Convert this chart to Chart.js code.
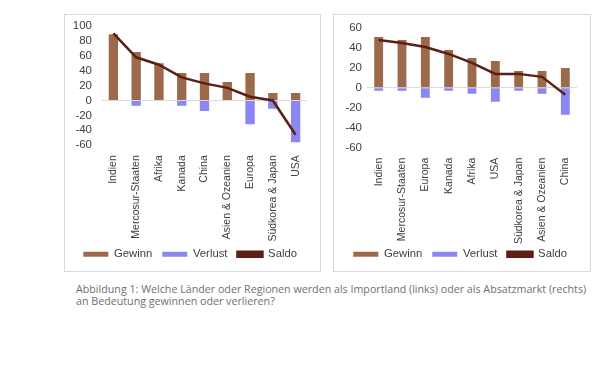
<!DOCTYPE html>
<html>
<head>
<meta charset="utf-8">
<script src="https://cdn.jsdelivr.net/npm/chart.js@4.4.1/dist/chart.umd.min.js"></script>
<style>
  body { margin: 0; background: #fff; width: 600px; height: 365px; position: relative; overflow: hidden; }
  .box { position: absolute; border: 1px solid #d9d9d9; box-sizing: border-box; }
  .box .wrap { position: absolute; left: 0; top: 0; right: 0; bottom: 0; }
  #boxLeft { left: 64px; top: 14px; width: 257px; height: 258px; }
  #boxRight { left: 333px; top: 14px; width: 258px; height: 258px; }
  .caption { position: absolute; left: 76px; top: 283px; width: 520px; font-family: "Open Sans", sans-serif; font-size: 10.7px; line-height: 12px; color: #707070; }
</style>
</head>
<body>
<div class="box" id="boxLeft"><div class="wrap"><canvas id="chartLeft"></canvas></div></div>
<div class="box" id="boxRight"><div class="wrap"><canvas id="chartRight"></canvas></div></div>
<div class="caption">Abbildung 1: Welche Länder oder Regionen werden als Importland (links) oder als Absatzmarkt (rechts) an Bedeutung gewinnen oder verlieren?</div>
<script>
// Importland (links)
const leftLabels = ['Indien', 'Mercosur-Staaten', 'Afrika', 'Kanada', 'China', 'Asien & Ozeanien', 'Europa', 'Südkorea & Japan', 'USA'];
const leftGewinn = [89, 65, 50, 37, 37, 25, 37, 10, 10];
const leftVerlust = [0, -7, 0, -7, -14, 0, -32, -11, -56];
const leftSaldo = [90, 58, 48, 31, 23, 17, 5, 0, -46];

// Absatzmarkt (rechts)
const rightLabels = ['Indien', 'Mercosur-Staaten', 'Europa', 'Kanada', 'Afrika', 'USA', 'Südkorea & Japan', 'Asien & Ozeanien', 'China'];
const rightGewinn = [51, 48, 51, 38, 30, 27, 17, 17, 20];
const rightVerlust = [-3, -3, -10, -3, -6, -14, -3, -6, -27];
const rightSaldo = [48, 45, 41, 34, 25, 14, 14, 11, -7];

const gewinnColor = '#9c6a4b';
const verlustColor = '#8a86f2';
const saldoColor = '#5b1f14';
const textColor = '#404040';
const fontFamily = '"Liberation Sans", Arial, sans-serif';
const legendOrder = ['Gewinn', 'Verlust', 'Saldo'];

const makeChart = (id, labels, gewinn, verlust, saldo, opts) => {
    const ctx = document.getElementById(id);
    new Chart(ctx, {
        type: 'bar',
        data: {
            labels: labels,
            datasets: [
                {
                    type: 'line',
                    label: 'Saldo',
                    data: saldo,
                    borderColor: saldoColor,
                    backgroundColor: saldoColor,
                    borderWidth: 2.5,
                    pointRadius: 0,
                    tension: 0,
                    order: 0
                },
                {
                    label: 'Gewinn',
                    data: gewinn,
                    backgroundColor: gewinnColor,
                    grouped: false,
                    categoryPercentage: 1,
                    barPercentage: opts.barPct,
                    order: 1
                },
                {
                    label: 'Verlust',
                    data: verlust,
                    backgroundColor: verlustColor,
                    grouped: false,
                    categoryPercentage: 1,
                    barPercentage: opts.barPct,
                    order: 1
                }
            ]
        },
        options: {
            responsive: true,
            maintainAspectRatio: false,
            animation: false,
            layout: {
                padding: { top: opts.padTop, right: opts.padRight, bottom: 1, left: 0 }
            },
            plugins: {
                legend: {
                    position: 'bottom',
                    align: 'end',
                    labels: {
                        boxWidth: 25,
                        boxHeight: 5,
                        padding: 10,
                        color: textColor,
                        font: { family: fontFamily, size: 11.3 },
                        sort: (a, b) => legendOrder.indexOf(a.text) - legendOrder.indexOf(b.text)
                    }
                },
                tooltip: { enabled: false }
            },
            scales: {
                x: {
                    afterFit: (scale) => {
                        scale.height = opts.xHeight;
                        scale._computeLabelArea = () => null;
                    },
                    grid: { display: false },
                    border: { display: false },
                    ticks: {
                        minRotation: 90,
                        maxRotation: 90,
                        autoSkip: false,
                        padding: 2,
                        color: textColor,
                        font: { family: fontFamily, size: 10.5 }
                    }
                },
                y: {
                    min: opts.min,
                    max: opts.max,
                    afterFit: (scale) => {
                        // fixed plot position: no extra label padding
                        scale.width = opts.yWidth;
                        scale.paddingTop = 0;
                        scale.paddingBottom = 0;
                    },
                    border: { display: false },
                    grid: {
                        drawTicks: false,
                        color: (context) => context.tick.value === 0 ? '#d9d9d9' : 'transparent'
                    },
                    ticks: {
                        stepSize: 20,
                        autoSkip: false,
                        padding: opts.tickPad,
                        color: textColor,
                        font: { family: fontFamily, size: 11.5 }
                    }
                }
            }
        }
    });
}

makeChart('chartLeft', leftLabels, leftGewinn, leftVerlust, leftSaldo,
    { min: -60, max: 100, yWidth: 37, tickPad: 10, padTop: 11, padRight: 13, barPct: 0.41, xHeight: 93.5 });
makeChart('chartRight', rightLabels, rightGewinn, rightVerlust, rightSaldo,
    { min: -60, max: 60, yWidth: 33, tickPad: 5, padTop: 13, padRight: 13, barPct: 0.38, xHeight: 91 });
</script>
</body>
</html>
